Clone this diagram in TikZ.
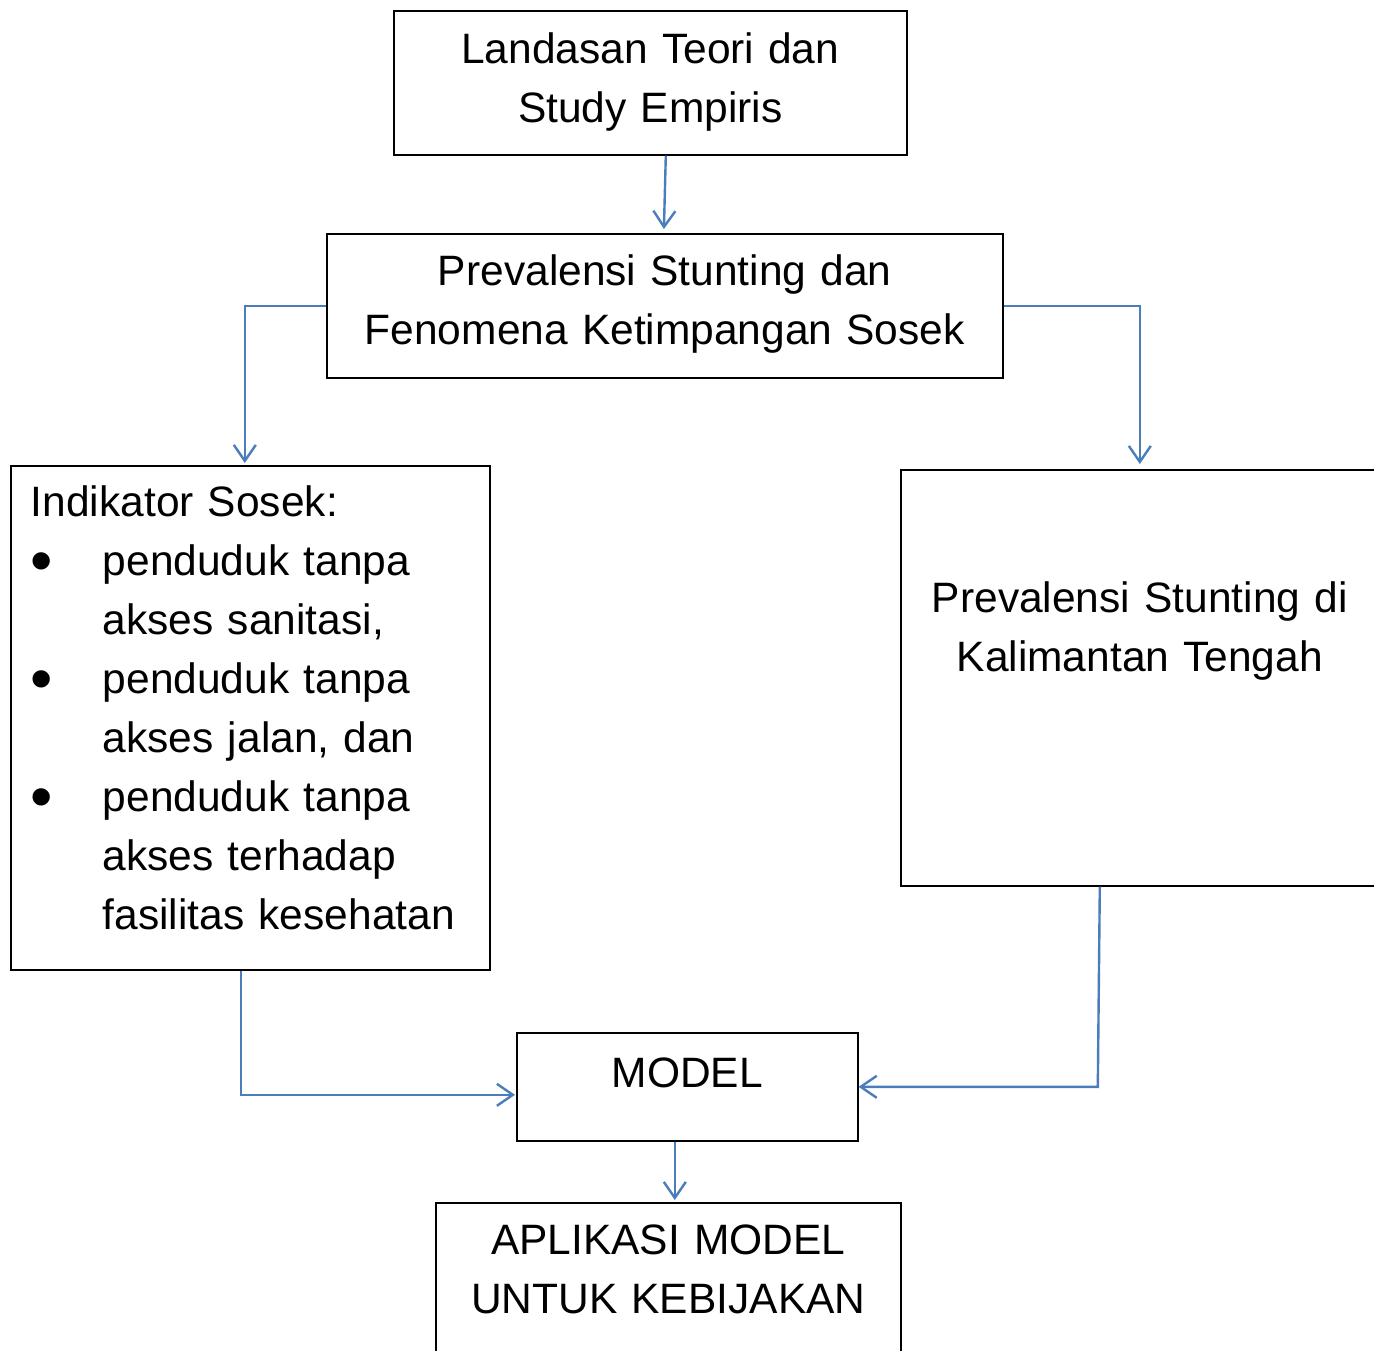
\documentclass[tikz,border=0pt]{standalone}
\usepackage{fontspec}
\setmainfont{Liberation Sans}
\usepackage{tikz}
\usetikzlibrary{arrows.meta}

\definecolor{linkblue}{RGB}{74,126,187}
\newcommand{\bulletitem}[1]{\hangindent=36pt\hangafter=1\noindent\makebox[36pt][l]{\raisebox{-3.5pt}{\scalebox{1.5}{\textbullet}}}#1\par}

\begin{document}
\begin{tikzpicture}[x=0.5pt, y=-0.5pt,
    box/.style={draw, line width=0.8pt, anchor=north west, inner sep=0pt,
        align=center, font=\fontsize{21.25pt}{29.5pt}\selectfont},
    link/.style={draw=linkblue, line width=1.2pt,
        -{Straight Barb[length=8pt, width=11pt, line width=1.2pt]}}]
                        \clip (0, 0) rectangle (1374, 1350);
                        \node[box, text width=256.5pt, text height=26.5pt, text depth=45.5pt] (teori) at (393, 10) {Landasan Teori dan\\Study Empiris};
                        \node[box, text width=338pt, text height=26pt, text depth=46pt] (fenomena) at (326, 233) {Prevalensi Stunting dan\\Fenomena Ketimpangan Sosek};
                        \node[box, align=left, inner xsep=10pt, text width=219.5pt, text height=25.5pt, text depth=226.5pt] (sosek) at (10, 465) {Indikator Sosek:\par
                            \bulletitem{penduduk tanpa\newline akses sanitasi,}
                            \bulletitem{penduduk tanpa\newline akses jalan, dan}
                            \bulletitem{penduduk tanpa\newline akses terhadap\newline fasilitas kesehatan}};
                        \node[box, text width=239pt, text height=71.5pt, text depth=136.5pt] (kalteng) at (900, 469) {Prevalensi Stunting di\\Kalimantan Tengah};
                        \node[box, text width=170.5pt, text height=27.5pt, text depth=26.5pt] (model) at (516, 1032) {MODEL};
                        \node[box, text width=232.5pt, text height=26pt, text depth=59pt] (aplikasi) at (435, 1202) {APLIKASI MODEL\\UNTUK KEBIJAKAN};

                        \draw[link, shorten >=2pt] ([xshift=7.75pt]teori.south) -- ([xshift=-0.5pt]fenomena.north);
                        \draw[link, shorten >=1pt] (fenomena.west) -| ([xshift=-2.75pt]sosek.north);
                        \draw[link, shorten >=2.5pt] (fenomena.east) -| (kalteng.north);
                        \draw[link, shorten >=0.5pt] ([xshift=-4.75pt]sosek.south) |- ([yshift=-4pt]model.west);
                        \draw[link] ([xshift=-20pt]kalteng.south) -- ([xshift=-21pt]kalteng.south |- model.east) -- (model.east);
                        \draw[link, shorten >=1pt] ([xshift=-6.25pt]model.south) -- ([xshift=3.25pt]aplikasi.north);
                    \end{tikzpicture}
\end{document}
